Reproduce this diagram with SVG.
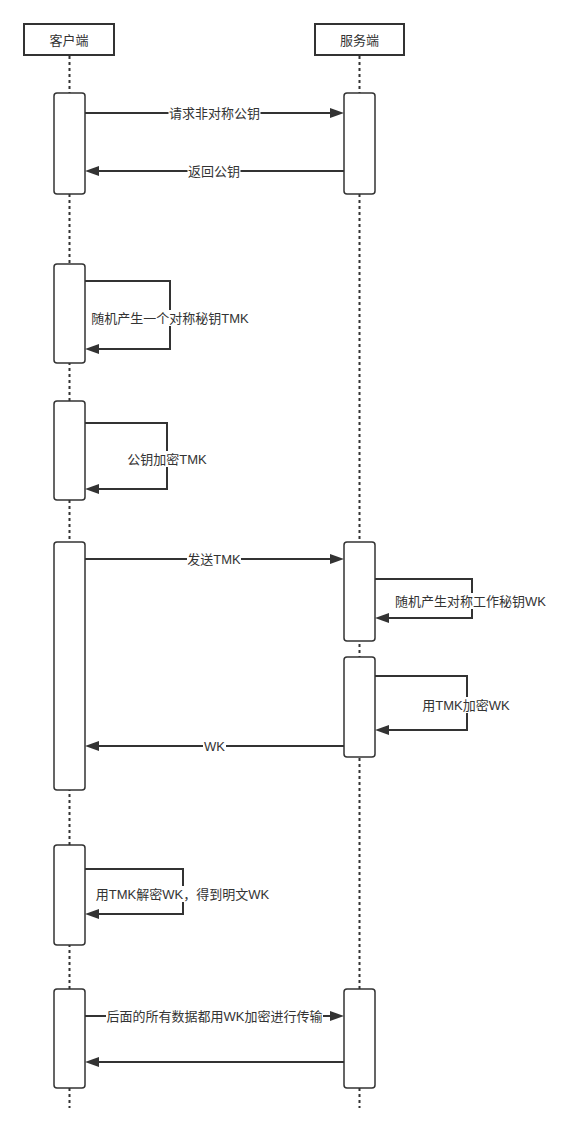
<svg xmlns="http://www.w3.org/2000/svg" width="561" height="1133" viewBox="0 0 561 1133">
<style>
text{font-family:"Liberation Sans","Noto Sans CJK SC",sans-serif;font-size:13px;fill:#333;text-anchor:middle;dominant-baseline:central}
.hdr{fill:#fff;stroke:#333;stroke-width:2}
.life{stroke:#333;stroke-width:2;stroke-dasharray:3 3;fill:none}
.act{fill:#fff;stroke:#333;stroke-width:1.5}
.msg{fill:none;stroke:#333;stroke-width:2;marker-end:url(#arr)}
.lbg{fill:#fff}
</style>
<defs>
<marker id="arr" markerUnits="userSpaceOnUse" markerWidth="14" markerHeight="10" refX="10" refY="5" orient="auto" overflow="visible">
<path d="M0,0 L14,5 L0,10 Z" fill="#333"/>
</marker>
</defs>
<rect width="561" height="1133" fill="#fff"/>
<g id="lifelines">
<line class="life" x1="69.5" y1="56" x2="69.5" y2="1108"/>
<line class="life" x1="359.5" y1="56" x2="359.5" y2="1108"/>
</g>
<g id="client">
<rect class="hdr" x="24" y="24" width="90" height="31"/>
<text x="69" y="40">客户端</text>
</g>
<g id="server">
<rect class="hdr" x="315" y="24" width="89" height="31"/>
<text x="359.5" y="40">服务端</text>
</g>
<g id="activations">
<rect id="c1" class="act" x="54" y="93" width="31" height="101" rx="3"/>
<rect id="s1" class="act" x="344" y="93" width="31" height="101" rx="3"/>
<rect id="c2" class="act" x="54" y="264" width="31" height="99" rx="3"/>
<rect id="c3" class="act" x="54" y="401" width="31" height="99" rx="3"/>
<rect id="c4" class="act" x="54" y="542" width="31" height="248" rx="3"/>
<rect id="s2" class="act" x="344" y="542" width="31" height="99" rx="3"/>
<rect id="s3" class="act" x="344" y="657" width="31" height="100" rx="3"/>
<rect id="c5" class="act" x="54" y="845" width="31" height="100" rx="3"/>
<rect id="c6" class="act" x="54" y="989" width="31" height="99" rx="3"/>
<rect id="s4" class="act" x="344" y="989" width="31" height="99" rx="3"/>
</g>
<g id="connectors">
<path class="msg" d="M85,113 H340"/>
<path class="msg" d="M344,171 H89"/>
<path class="msg" d="M85,281 H170 V349 H89"/>
<path class="msg" d="M85,423 H167 V489 H89"/>
<path class="msg" d="M85,559 H340"/>
<path class="msg" d="M375,579 H472 V618 H379"/>
<path class="msg" d="M375,676 H467 V730 H379"/>
<path class="msg" d="M344,746 H89"/>
<path class="msg" d="M85,869 H183 V914 H89"/>
<path class="msg" d="M85,1016 H340"/>
<path class="msg" d="M344,1062 H89"/>
</g>
<g id="labels">
<rect class="lbg" x="168.5" y="105" width="92" height="16"/>
<text x="214.5" y="113">请求非对称公钥</text>
<rect class="lbg" x="187.5" y="163" width="53" height="16"/>
<text x="214" y="171">返回公钥</text>
<rect class="lbg" x="91" y="310" width="158" height="16"/>
<text x="170" y="318">随机产生一个对称秘钥TMK</text>
<rect class="lbg" x="127" y="451" width="80" height="16"/>
<text x="167" y="459">公钥加密TMK</text>
<rect class="lbg" x="187" y="551" width="54" height="16"/>
<text x="214" y="559">发送TMK</text>
<rect class="lbg" x="394" y="593" width="153" height="16"/>
<text x="470.5" y="601">随机产生对称工作秘钥WK</text>
<rect class="lbg" x="422" y="697" width="88" height="16"/>
<text x="466" y="705">用TMK加密WK</text>
<rect class="lbg" x="203" y="738" width="23" height="16"/>
<text x="214.5" y="746">WK</text>
<rect class="lbg" x="95" y="886" width="175" height="16"/>
<text x="182.5" y="894">用TMK解密WK，得到明文WK</text>
<rect class="lbg" x="106" y="1008" width="217" height="16"/>
<text x="214.5" y="1016">后面的所有数据都用WK加密进行传输</text>
</g>
</svg>
